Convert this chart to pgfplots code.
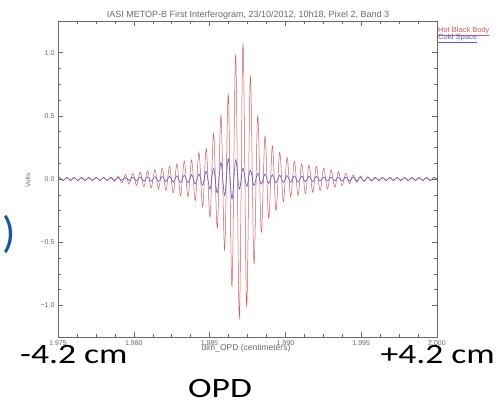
\documentclass[border=0pt]{standalone}
\usepackage{pgfplots}
\pgfplotsset{compat=1.18}
\usepackage{pgfplotstable}
\usepackage{fontspec}
\setmainfont{Liberation Sans}
\newfontfamily\calfont{Carlito}
\definecolor{hot}{RGB}{210,90,95}
\definecolor{cold}{RGB}{95,90,205}
\definecolor{idlgray}{RGB}{105,105,105}
\definecolor{slideblue}{RGB}{15,90,160}
\pgfplotstableread{
x hot cold
1.975000 0 0
1.975099 0.013 0.012
1.975341 -0.013 -0.012
1.975583 0.013 0.012
1.975825 -0.013 -0.012
1.976067 0.013 0.012
1.976309 -0.013 -0.012
1.976551 0.013 0.012
1.976793 -0.013 -0.012
1.977035 0.013 0.012
1.977277 -0.013 -0.012
1.977519 0.013 0.012
1.977762 -0.013 -0.012
1.978004 0.013 0.012
1.978246 -0.013 -0.012
1.978488 0.015 0.012
1.978730 -0.018 -0.012
1.978972 0.022 0.012
1.979214 -0.030 -0.012
1.979456 0.035 0.012
1.979698 -0.040 -0.012
1.979940 0.045 0.015
1.980182 -0.050 -0.015
1.980425 0.055 0.016
1.980667 -0.060 -0.016
1.980909 0.065 0.017
1.981151 -0.070 -0.018
1.981393 0.075 0.018
1.981635 -0.080 -0.019
1.981877 0.085 0.020
1.982119 -0.090 -0.020
1.982361 0.100 0.022
1.982603 -0.110 -0.025
1.982845 0.120 0.025
1.983088 -0.130 -0.028
1.983330 0.140 0.030
1.983572 -0.140 -0.030
1.983814 0.150 0.035
1.984056 -0.170 -0.040
1.984298 0.210 0.040
1.984540 -0.220 -0.050
1.984782 0.240 0.060
1.985024 -0.300 -0.080
1.985266 0.360 0.085
1.985508 -0.390 -0.110
1.985751 0.500 0.130
1.985993 -0.560 -0.130
1.986235 0.670 0.160
1.986477 -0.850 -0.160
1.986719 0.980 0.150
1.986961 -1.100 -0.080
1.987203 1.070 0.085
1.987445 -1.010 -0.060
1.987687 0.810 0.070
1.987929 -0.670 -0.050
1.988171 0.500 0.045
1.988413 -0.420 -0.040
1.988655 0.340 0.040
1.988898 -0.310 -0.035
1.989140 0.260 0.035
1.989382 -0.250 -0.030
1.989624 0.210 0.030
1.989866 -0.180 -0.028
1.990108 0.170 0.027
1.990350 -0.140 -0.026
1.990592 0.140 0.025
1.990834 -0.130 -0.024
1.991076 0.120 0.023
1.991318 -0.115 -0.022
1.991561 0.110 0.021
1.991803 -0.105 -0.020
1.992045 0.100 0.020
1.992287 -0.090 -0.015
1.992529 0.085 0.015
1.992771 -0.078 -0.015
1.993013 0.071 0.015
1.993255 -0.065 -0.015
1.993497 0.058 0.015
1.993739 -0.052 -0.015
1.993982 0.045 0.015
1.994224 -0.038 -0.015
1.994466 0.032 0.015
1.994708 -0.028 -0.015
1.994950 0.024 0.015
1.995192 -0.020 -0.015
1.995434 0.017 0.015
1.995676 -0.015 -0.015
1.995918 0.013 0.012
1.996160 -0.013 -0.012
1.996402 0.013 0.012
1.996645 -0.013 -0.012
1.996887 0.013 0.012
1.997129 -0.013 -0.012
1.997371 0.013 0.012
1.997613 -0.013 -0.012
1.997855 0.013 0.012
1.998097 -0.013 -0.012
1.998339 0.013 0.012
1.998581 -0.013 -0.012
1.998823 0.013 0.012
1.999065 -0.013 -0.012
1.999308 0.013 0.012
1.999550 -0.013 -0.012
1.999792 0.013 0.012
2.000000 0 0
}\interf
\begin{document}
\begin{tikzpicture}[x=1pt,y=1pt]
\path[use as bounding box] (0,0) rectangle (498,-399);
\begin{axis}[
  scale only axis, width=379pt, height=316pt,
  at={(58pt,-337pt)}, anchor=south west,
  xmin=1.975, xmax=2.000, ymin=-1.25, ymax=1.25,
  xtick={1.975,1.980,1.985,1.990,1.995,2.000},
  xticklabels={1.975,1.980,1.985,1.990,1.995,2.000},
  ytick={-1,-0.5,0,0.5,1},
  yticklabels={−1.0,−0.5,0.0,0.5,1.0},
  minor tick num=3,
  major tick length=5pt, minor tick length=3pt,
  tick align=inside, tick pos=both,
  axis line style={draw=idlgray, line width=0.5pt},
  every tick/.style={draw=idlgray, line width=0.5pt},
  every minor tick/.style={draw=idlgray, line width=0.5pt},
  tick label style={font=\fontsize{7}{8}\selectfont, text=idlgray},
  /pgf/number format/assume math mode=true,
]
\addplot[hot, line width=0.5pt, smooth, tension=0.55] table[x=x, y=hot] {\interf};
\addplot[cold, line width=0.6pt, smooth, tension=0.55] table[x=x, y=cold] {\interf};
\end{axis}
% title and labels
\node[anchor=base, font=\fontsize{9}{10}\selectfont, text=idlgray] at (248,-17) {IASI METOP-B First Interferogram, 23/10/2012, 10h18, Pixel 2, Band 3};
\node[anchor=base, font=\fontsize{8.5}{9}\selectfont, text=idlgray] at (246,-350) {dim\_OPD (centimeters)};
\node[rotate=90, font=\fontsize{6.5}{7}\selectfont, text=idlgray] at (28,-180) {Volts};
% legend
\node[anchor=base west, inner sep=0pt, font=\fontsize{7.5}{8}\selectfont, text=hot] at (438,-32) {\underline{Hot Black Body}};
\node[anchor=base west, inner sep=0pt, font=\fontsize{7.5}{8}\selectfont, text=cold] at (438,-39.5) {\underline{Cold Space}};
% slide annotations
\node[anchor=base west, inner sep=0pt, font=\calfont\fontsize{28}{30}\selectfont] at (20,-363) {\scalebox{1.27}[1]{-4.2 cm}};
\node[anchor=base east, inner sep=0pt, font=\calfont\fontsize{28}{30}\selectfont] at (495,-363) {\scalebox{1.27}[1]{+4.2 cm}};
\node[anchor=base west, inner sep=0pt, font=\calfont\fontsize{28}{30}\selectfont] at (188,-397) {\scalebox{1.27}[1]{OPD}};
\node[inner sep=0pt, text=slideblue, font=\calfont\fontsize{44}{46}\selectfont] at (9,-234) {)};
\end{tikzpicture}
\end{document}
